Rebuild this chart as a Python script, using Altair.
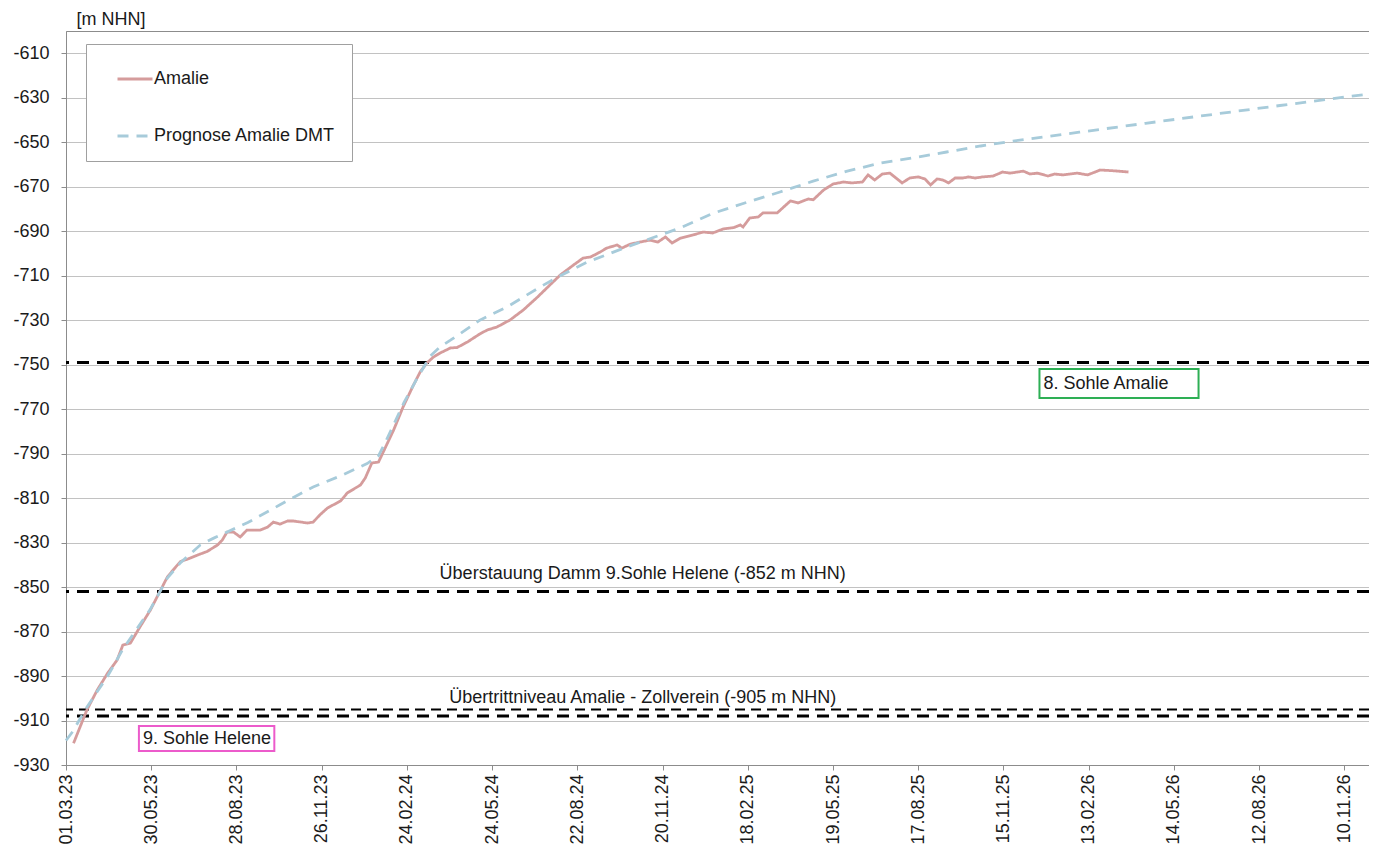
import altair as alt
import pandas as pd

FONT = "Liberation Sans"
TXT = "#1a1a1a"
START = "2023-03-01"

# Amalie (measured) – days since 01.03.23 and level [m NHN]
amalie_days = [8, 22, 33, 44, 54, 60, 68, 78, 89, 100, 107, 113, 121, 128, 139, 149, 160, 165, 170, 177,
               184, 191, 205, 213, 219, 226, 234, 240, 255, 261, 268, 276, 286, 290, 297, 311, 316, 323, 330, 335,
               346, 356, 366, 374, 381, 388, 395, 406, 413, 424, 437, 445, 455, 469, 483, 498, 511, 522, 536, 546,
               554, 564, 571, 582, 587, 596, 606, 617, 625, 633, 640, 649, 662, 673, 683, 694, 705, 712, 715, 722,
               731, 736, 751, 765, 773, 784, 789, 800, 810, 821, 830, 841, 847, 854, 862, 870, 883, 891, 900, 907,
               913, 920, 926, 932, 939, 947, 953, 960, 968, 979, 989, 997, 1011, 1018, 1026, 1037, 1044, 1053, 1068, 1079,
               1092, 1105, 1122]
amalie_vals = [-920.2, -905.3, -896.3, -888.7, -882.8, -876.1, -875.2, -868.0, -860.4, -851.3, -845.5, -842.4, -838.5, -837.5, -835.6, -834.0, -831.1, -828.9, -825.3, -825.3,
               -827.5, -824.4, -824.4, -823.0, -820.8, -821.7, -820.3, -820.3, -821.2, -820.8, -817.6, -814.5, -812.2, -811.3, -807.7, -804.1, -801.0, -794.2, -793.8, -789.3,
               -779.4, -769.0, -760.0, -753.3, -749.3, -746.6, -744.8, -742.5, -742.3, -739.8, -736.2, -734.4, -733.1, -729.9, -725.4, -719.6, -714.2, -709.7, -705.2, -702.1,
               -701.6, -699.4, -697.6, -696.2, -697.6, -695.8, -694.9, -694.0, -694.9, -692.6, -695.3, -693.1, -691.7, -690.4, -690.8, -689.0, -688.4, -687.2, -688.1, -684.1,
               -683.6, -681.8, -681.8, -676.4, -677.3, -675.5, -675.9, -671.5, -668.8, -667.9, -668.3, -667.9, -664.7, -667.0, -664.3, -663.9, -668.3, -666.1, -665.6, -666.5,
               -669.2, -666.5, -667.0, -668.3, -666.1, -666.1, -665.6, -666.1, -665.6, -665.2, -663.4, -663.9, -663.0, -664.3, -663.9, -665.2, -664.3, -664.7, -663.9, -664.7,
               -662.5, -662.8, -663.4]

# Prognose Amalie DMT
prog_days = [0, 7, 22, 44, 60, 89, 107, 121, 142, 156, 192, 226, 261, 290, 318, 330, 336, 346, 357, 371,
             385, 395, 406, 437, 466, 501, 522, 550, 589, 606, 649, 683, 719, 754, 789, 825, 860, 895, 930, 966,
             1000, 1070, 1140, 1211, 1282, 1352, 1385]
prog_vals = [-919, -915, -904, -890, -878, -860, -846, -839, -831, -828, -821, -813, -805, -800, -794.5, -791, -786, -777, -767, -756,
             -746, -742, -739, -730, -724, -715, -710, -704, -697.6, -695, -688.5, -682, -677, -672.4, -667.5, -663, -659.4, -657, -654.4, -651.7,
             -649.5, -645.5, -641.5, -637.5, -633.5, -629.6, -628]

series_names = ["Amalie", "Prognose Amalie DMT"]
series_colors = ["#D59C9C", "#A7CBDA"]

tick_labels = ["01.03.23", "30.05.23", "28.08.23", "26.11.23", "24.02.24", "24.05.24", "22.08.24", "20.11.24",
               "18.02.25", "19.05.25", "17.08.25", "15.11.25", "13.02.26", "14.05.26", "12.08.26", "10.11.26"]
y_ticks = list(range(-610, -931, -20))
x_end_day = 1376

thick_levels = [-749, -852, -908]
thin_levels = [-905]

annot_labels = ["Überstauung Damm 9.Sohle Helene (-852 m NHN)", "Übertrittniveau Amalie - Zollverein (-905 m NHN)"]
annot_day = [609, 609]
annot_level = [-852, -905]
annot_dy = [-13, -6]

box_labels = ["8. Sohle Amalie", "9. Sohle Helene"]
box_colors = ["#2EAF55", "#EC5BCB"]
box_day0 = [1028, 77]
box_day1 = [1196, 220]
box_top = [-752.0, -912.5]
box_bottom = [-765.0, -923.7]

start = pd.Timestamp(START)


def to_dates(days):
    return [start + pd.Timedelta(days=d) for d in days]


df_lines = pd.concat([
    pd.DataFrame({"date": to_dates(amalie_days), "value": amalie_vals, "series": series_names[0]}),
    pd.DataFrame({"date": to_dates(prog_days), "value": prog_vals, "series": series_names[1]}),
], ignore_index=True)

tick_dates = [pd.to_datetime(t, format="%d.%m.%y") for t in tick_labels]
end_date = start + pd.Timedelta(days=x_end_day)


def dt(ts):
    return alt.DateTime(year=ts.year, month=ts.month, date=ts.day)


x_scale = alt.Scale(domain=[dt(start), dt(end_date)])
y_scale = alt.Scale(domain=[-930, -600], nice=False, zero=False)

x_axis = alt.Axis(values=[dt(t) for t in tick_dates], format="%d.%m.%y", labelAngle=-90,
                  labelFontSize=18, labelFont=FONT, labelColor=TXT, domainColor="#8c8c8c",
                  tickColor="#8c8c8c", tickSize=5, labelPadding=4, grid=False, title=None,
                  labelOverlap=False)
y_axis = alt.Axis(values=y_ticks, labelExpr="'' + datum.value", labelFontSize=18, labelFont=FONT,
                  labelColor=TXT, domainColor="#8c8c8c", tickColor="#8c8c8c", tickSize=5, labelPadding=12,
                  grid=True, gridColor="#c2c2c2", gridWidth=1, title="[m NHN]", titleAngle=0,
                  titleAlign="left", titleBaseline="alphabetic", titleX=10, titleY=-7, titleFontSize=18,
                  titleFontWeight="normal", titleFont=FONT, titleColor=TXT)

X = alt.X("date:T", scale=x_scale, axis=x_axis)
Y = alt.Y("value:Q", scale=y_scale, axis=y_axis)

legend = alt.Legend(title=None, orient="none", legendX=20, legendY=13, padding=16,
                    strokeColor="#a0a0a0", fillColor="white", symbolType="stroke", symbolSize=1225,
                    symbolStrokeWidth=2.8, symbolOffset=14, labelFontSize=18, labelFont=FONT,
                    labelColor=TXT, labelLimit=400, rowPadding=29, labelOffset=0, cornerRadius=0)

lines = alt.Chart(df_lines).mark_line(strokeWidth=2.8).encode(
    x=X, y=Y,
    color=alt.Color("series:N", scale=alt.Scale(domain=series_names, range=series_colors), legend=legend),
    strokeDash=alt.StrokeDash("series:N", scale=alt.Scale(domain=series_names, range=[[1, 0], [11, 8]]),
                              legend=legend),
    order=alt.Order("series:N"),
)

thick = alt.Chart(pd.DataFrame({"value": thick_levels})).mark_rule(
    color="black", strokeWidth=3, strokeDash=[12, 8]).encode(y=Y)
thin = alt.Chart(pd.DataFrame({"value": thin_levels})).mark_rule(
    color="black", strokeWidth=2, strokeDash=[10, 6]).encode(y=Y)

annots = []
for lab, d, lv, dy in zip(annot_labels, annot_day, annot_level, annot_dy):
    dfa = pd.DataFrame({"date": to_dates([d]), "value": [lv], "label": [lab]})
    annots.append(alt.Chart(dfa).mark_text(align="center", baseline="alphabetic", dy=dy, fontSize=18,
                                           font=FONT, color=TXT).encode(x=X, y=Y, text="label:N"))

df_box = pd.DataFrame({
    "date": to_dates(box_day0), "date2": to_dates(box_day1),
    "value": box_top, "value2": box_bottom, "label": box_labels, "col": box_colors,
    "mid": [(a + b) / 2 for a, b in zip(box_top, box_bottom)],
})
boxes = alt.Chart(df_box).mark_rect(fill="white", strokeWidth=2).encode(
    x=X, x2="date2:T", y=Y, y2="value2:Q", stroke=alt.Stroke("col:N", scale=None))
box_text = alt.Chart(df_box).mark_text(align="left", baseline="middle", dx=4, fontSize=18,
                                       font=FONT, color=TXT).encode(
    x=X, y=alt.Y("mid:Q", scale=y_scale, axis=y_axis), text="label:N")

chart = alt.layer(thick, thin, *annots, boxes, box_text, lines).properties(
    width=1303, height=734,
    padding={"left": 58, "top": 23, "right": 0, "bottom": 80},
    autosize=alt.AutoSizeParams(type="none"),
).configure(font=FONT).configure_view(stroke="#8c8c8c", strokeWidth=1)

chart.save("out.html", embed_options={"renderer": "svg", "actions": False})
